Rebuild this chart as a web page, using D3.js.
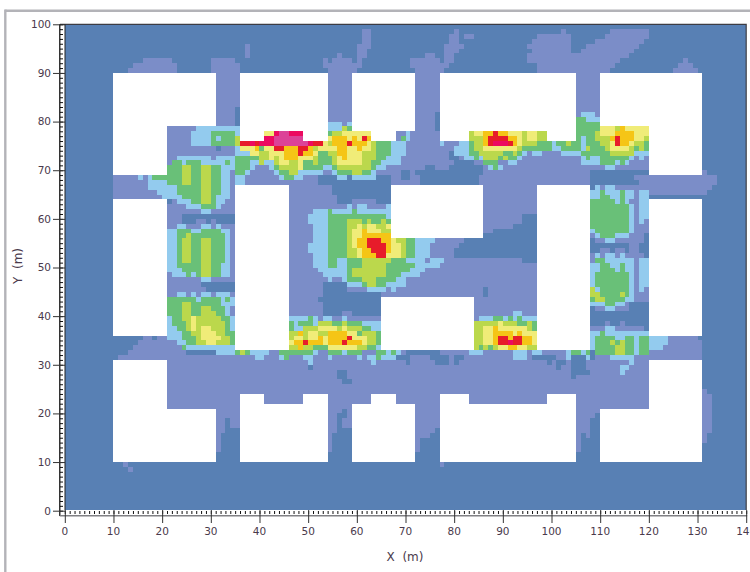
<!DOCTYPE html>
<html>
<head>
<meta charset="utf-8">
<script src="https://cdn.jsdelivr.net/npm/d3@7"></script>
<style>
html,body{margin:0;padding:0;background:#fff;overflow:hidden}
svg{display:block}
text{font-family:"DejaVu Sans",sans-serif;fill:#4a3a4c}
</style>
</head>
<body>
<svg id="c" width="750" height="572"></svg>
<script>
// Tick values (m)
const xTicks = [0,10,20,30,40,50,60,70,80,90,100,110,120,130,140];
const yTicks = [0,10,20,30,40,50,60,70,80,90,100];
const xMinorTicks = d3.range(0,141,1);
const yMinorTicks = d3.range(0,101,1);

// Level colours (A lowest ... J highest)
const levelKeys = ["A","B","C","D","E","F","G","H","I","J"];
const levelColors = ["#5880b4","#7b8dc8","#93cbee","#69c078","#bbd84c","#f0ec78","#f5c516","#e71c2a","#ec0a60","#dc4298"];

// Buildings: [x0, x1, y0, y1] in metres
const buildings = [
 [10,31,79,90],[10,21,69,90],
 [36,41,76,90],[41,49,78,90],[49,54,76,90],
 [59,72,78,90],[63,68,76,78],
 [77,105,78,90],[77,83,76,78],[99,105,76,78],
 [110,131,79,90],[120,131,69,90],
 [10,21,36,64],[120,131,36,64],
 [10,21,10,31],[10,31,10,21],[120,131,10,31],[110,131,10,21],
 [36,54,10,22],[36,41,22,24],[49,54,22,24],
 [59,72,10,22],[63,68,22,24],
 [77,105,10,22],[77,83,22,24],[99,105,22,24],
 [35,46,33,67],[67,86,56,67],[65,84,33,44],[97,108,33,67]
];

// Level field, one string per 1 m row from y=99 down to y=0.
// Each token: start x (m) + level letter; holds until the next token.
const fieldRows = [
"0A",
"0A 61B 63A 80B 81A 102B 103A 112B 120A",
"0A 61B 63A 79B 81A 82B 84A 97B 104A 111B 120A",
"0A 61B 63A 79B 81A 96B 104A 109B 119A",
"0A 37B 38A 60B 63A 78B 82A 95B 104A 107B 118A",
"0A 37B 38A 60B 62A 78B 81A 96B 104A 106B 117A",
"0A 37B 38A 56B 57A 60B 62A 74B 76A 78B 80A 95B 116A",
"0A 16B 22A 30B 35A 53B 54A 55B 59A 60B 61A 71B 77A 78B 80A 95B 114A 127B 128A",
"0A 14B 23A 30B 36A 53B 61A 71B 79A 97B 113A 126B 129A",
"0A 13B 23A 30B 36A 54B 60A 72B 78A 97B 112A 125B 130A",
"0A 31B 36A 54B 59A 72B 77A 105B 110A",
"0A 31B 36A 54B 59A 72B 77A 105B 110A",
"0A 31B 36A 54B 59A 72B 77A 105B 110A",
"0A 31B 36A 54B 59A 72B 77A 105B 110A",
"0A 31B 36A 54B 59A 72B 77A 105B 110A",
"0A 31B 36A 54B 59A 72B 77A 105B 110A",
"0A 31B 36A 54B 59A 72B 77A 105B 110A",
"0A 31B 35A 54B 59A 72B 77A 105B 110A",
"0A 31B 35A 54B 59A 72B 76A 105B 106C 109B 110A",
"0A 31B 35A 54B 59A 72B 76A 105D 107C 110A",
"0A 31B 35A 54C 57B 58C 59A 72B 76A 105D 110A",
"0A 21B 27C 36A 54C 57E 58D 59A 72B 76A 105D 110F 113E 114G 115F 120A",
"0A 21B 26C 30D 35C 36A 41F 43I 44J 46I 49A 54D 55E 57F 63A 68B 70C 71B 77A 83E 84F 86G 88H 89G 91F 94E 95F 97E 99A 105D 109E 110F 113G 117F 120A",
"0A 21B 26C 30D 31C 32D 35E 36A 41I 43J 49A 54F 55G 58F 59G 60F 61H 62G 63A 68B 69D 70C 71B 77A 83E 86G 87H 91G 93F 94E 95F 97E 99A 105D 106C 107D 109E 112G 113H 114G 117F 119E 120A",
"0A 21B 26C 30D 35E 36H 38I 39H 40I 43J 50I 51H 53F 54E 55G 58H 59G 62F 63E 64D 67C 70B 77C 78B 81C 83D 84E 86G 87H 88I 91H 92G 93F 94E 97D 100C 101D 103E 104D 106C 107D 110E 112F 113H 114G 116F 117E 119D 120A",
"0A 21B 31A 32B 35C 36F 39G 40D 41F 43H 45G 48H 50G 51E 52F 54F 56G 58F 60G 61F 63E 64D 67C 70B 80C 83D 84E 86F 93E 94D 100C 102D 106C 107E 108D 111E 112F 116E 117D 118E 119D 120A",
"0A 21B 35C 38F 40E 42F 45G 48H 49G 51F 52D 54E 56G 58F 61E 64D 67C 70B 79A 80C 83D 85E 90D 92E 93D 94C 95B 96C 98B 102C 106D 112E 117C 120A",
"0A 21B 23C 30B 31C 35D 38D 40E 42F 43E 44F 45G 48F 51E 52D 55E 56F 57G 58F 61E 64D 66C 69B 79A 81B 82C 84D 85C 86E 89D 90E 91D 93C 94B 106C 107D 108C 110D 116C 117B 118C 119B 120A",
"0A 21B 22D 24C 25D 28C 33D 34C 35D 38C 40E 41C 43E 44F 46E 48F 49D 51E 52D 55E 56F 61E 63D 65C 69B 80A 84B 86D 89B 91C 93B 106C 110D 113C 114D 115C 116B 120A",
"0A 21D 24E 26D 28E 30D 32C 35D 38C 39B 42C 43D 44E 48F 49D 53C 55D 56E 63D 64C 66B 74A 76B 79A 86B 87C 88D 89C 90B 111C 113B 120A",
"0A 21D 24E 26D 28E 30D 32C 34B 35D 37C 38B 43C 44D 46E 48C 53B 55C 56D 59E 61D 63C 64B 69A 71B 72A 86B 108A 131B 132A",
"0A 10B 15C 16B 17C 18D 24E 26D 28E 30D 32C 34B 35C 37B 44C 45D 47C 49B 52A 56C 58A 59C 64A 67B 69A 71B 73A 85B 108A 117B 134A",
"0A 10B 17C 21D 24E 26D 28E 30D 32C 34B 35C 37B 52A 67B 73A 85B 108A 118B 134A",
"0A 10B 17C 23D 28E 30D 32C 34B 46B 55A 67A 86B 108A 109C 110B 111C 113B 133A",
"0A 10B 19C 23D 28E 30D 32C 34B 46B 55A 67A 86B 108C 110D 111C 114D 115C 117B 118C 120B 132A",
"0A 10B 20C 24D 28E 30D 31C 34B 46B 56A 67A 86B 108C 110D 112C 114D 115C 117B 118C 120A",
"0A 21A 22B 23C 26D 28E 30D 31C 33B 46B 56A 59B 62B 64A 86B 108D 113C 114D 115C 116B 118C 120A",
"0A 21B 25C 28D 31C 32B 46B 58C 59B 60C 62B 66C 67A 86B 108D 116C 117B 118C 120A",
"0A 21B 28C 30B 46B 51C 54D 55C 59D 60C 67A 86B 108D 116C 117B 118C 120A",
"0A 21B 24A 35B 46B 50C 54D 66C 67A 86B 94A 108D 116C 117B 118C 120A",
"0A 21B 24A 27B 29A 30B 31A 35B 46B 50C 54D 58E 61D 62E 63D 65E 66D 67A 86B 94A 108D 116C 117B 118C 119B 120A",
"0A 21B 23C 25B 28C 30B 31C 32B 46B 51C 54D 58E 60F 61E 62F 64E 66F 67A 86B 92A 108D 116C 117B 120A",
"0A 21C 23D 26C 28D 32C 34B 46B 51C 54D 58E 59F 61G 62F 65E 67A 86B 88A 108C 109D 116C 117B 120A",
"0A 21C 23D 25E 26D 33C 34B 46B 51C 54D 58E 59F 61G 67A 108B 109C 110D 113C 116B 119A",
"0A 21C 23D 24E 26D 28E 30D 33C 34B 46B 51C 54D 58E 59F 60G 62H 65G 67F 68E 70D 72C 76B 82A 108A 109B 111C 113B 119A",
"0A 21C 23D 24E 26D 28E 30D 33C 34B 46B 50C 54D 58E 59F 60G 62H 66G 67F 69E 70D 72C 75B 81A 116B 118A",
"0A 21C 23D 24E 26D 28E 30D 33C 34B 46B 50C 54D 58E 60F 61G 63H 66G 67F 69E 70D 72C 75B 80A 110B 112A 113B 115A 116B 118A",
"0A 21C 23D 24E 26D 28E 30D 33C 34B 46B 51C 54D 58E 60F 61G 64H 66F 69E 70D 72C 75B 80A 108B 109C 110B 111C 113B 114C 115B 119A",
"0A 21C 23D 24E 26D 28E 30D 33C 34B 46B 51C 54D 56C 58D 61E 67D 70C 74B 75C 78B 94A 97B 108B 109D 111C 117B 118C 120A",
"0A 21C 23D 28E 30D 32C 34B 46B 51C 54D 56C 58D 61E 66D 72C 77B 108C 110D 112C 114D 115C 117B 118C 120A",
"0A 21C 24D 28E 30D 32C 34B 46B 52C 58D 59E 66D 71C 74B 108C 110D 113C 114D 115C 117B 118C 120A",
"0A 21B 22C 25D 26C 27D 28E 30D 32C 34B 46B 53C 58D 59E 66D 69C 73B 108C 109D 116C 117B 118C 120A",
"0A 21B 28C 30B 46B 54C 55B 57C 58D 61E 64D 68C 70B 108C 109D 116C 117B 118C 120A",
"0A 21B 28A 35B 46B 53A 58C 61D 62E 64D 66C 70B 108C 109D 116C 117B 118C 120A",
"0A 21B 29A 35B 46B 53A 58B 62C 66B 67C 68B 86A 87B 108E 109C 110D 116C 117B 118C 119B 120A",
"0A 21B 23C 25B 26C 27B 28C 30B 31C 34B 46B 53A 65B 86A 87B 108E 110D 114E 115D 116C 117B 120A",
"0A 21D 25D 27C 28D 32C 33D 34C 35B 46B 52A 65B 108D 109E 111D 115C 117B 120A",
"0A 21D 24E 26D 32C 35B 46B 53A 65B 108C 111D 113C 115B 116A",
"0A 21D 24E 26D 28E 30D 33C 34B 46B 53A 65B 108A 109B 111C 113B 116A",
"0A 21D 24E 26D 28E 31D 33C 34B 46B 53A 57B 59A 65B 92C 94B 108A",
"0A 21C 22D 24E 26F 27E 32D 34C 46C 50D 51C 52B 53C 55B 57C 58B 85C 88D 90C 91D 92C 93D 94C 97A 108A",
"0A 21C 22D 25E 26F 27E 33D 34C 46D 47C 48D 51C 52E 55D 57E 58D 61C 65B 84E 89F 90E 93D 95E 96D 97A 108A 111B 112A 114B 115A",
"0A 21C 23D 25E 26F 27E 28F 30E 33D 34C 46D 47C 49E 52F 56E 57F 58E 61D 63C 65B 84E 86F 88G 89F 95E 96D 97B 108B 111C 113B 119A",
"0A 21C 24D 26E 28F 31E 33D 35C 46E 48G 49E 50F 52E 54G 58F 60D 61E 64D 65B 84E 86F 88G 92F 93G 94F 97C 108C 110D 111C 120A",
"0A 16B 18A 19B 21C 24D 27E 28F 32E 34D 35C 46E 47F 49E 50F 52G 53F 54G 58H 59F 62E 64D 65B 84E 86F 88G 89H 91G 92H 94G 96F 97B 108C 109D 113C 115D 117C 118D 120C 124B 130A",
"0A 15B 23C 25D 27E 29F 31E 34D 35B 46F 47G 49H 50G 53F 54G 57H 58G 61F 62E 64D 65B 84E 86F 88G 89H 91I 92H 94G 96F 97B 108C 109D 112E 113D 114E 115D 117C 118D 120C 124B 131A",
"0A 14B 24D 25C 35B 46E 48G 49E 51D 54F 60E 62D 64C 65B 84E 85D 86E 87D 88E 89F 91G 93F 95E 97B 108C 109D 113E 115D 117C 118D 120C 123B 131A",
"0A 13B 25A 31C 35D 36E 37D 38C 42B 44D 51C 52B 54D 57C 58D 61B 64D 66C 67D 68C 69B 70A 77B 83C 86B 92C 95B 96C 98B 103C 104D 106C 107D 108A 109D 113E 115D 117C 118D 120B 131A",
"0A 11B 39C 41B 44C 45D 46B 49C 51B 54C 55B 60C 61B 62C 64D 65C 68A 71B 75A 79B 80A 82B 92C 95B 96A 101B 103C 104A 107C 108A 109B 112C 117B 131A",
"0A 21B 50C 51B 63C 64B 70A 71B 76A 79B 80A 81B 99A 100B 101A 103B 104A 107B 116C 117B 131A",
"0A 21B 50A 51B 101A 102B 104A 107B 114C 116B 131A",
"0A 21B 56A 58B 104A 108B 114C 115B 131A",
"0A 21B 56A 58B 104A 105B 131A",
"0A 21B 57A 59B 131A",
"0A 21B 131A",
"0A 21B 131B 132A",
"0A 21B 131B 133A",
"0A 21B 131B 133A",
"0A 21B 131B 133A",
"0A 21B 57A 58B 131B 133A",
"0A 21B 56A 58B 109A 110B 131B 133A",
"0A 21B 33A 34B 56A 57B 108A 110B 131B 133A",
"0A 21B 33A 34B 56A 57B 108A 110B 131B 133A",
"0A 21B 33A 36B 56A 59B 76A 77B 108A 110B 131B 133A",
"0A 21B 32A 36B 55A 59B 75A 77B 106A 107B 108A 110B 131B 132A",
"0A 21B 32A 36B 55A 59B 73A 77B 106A 110B 131B 132A",
"0A 21B 32A 36B 55A 59B 73A 77B 106A 110B 131A",
"0A 21B 32A 36B 55A 59B 73A 77B 106A 110B 131A",
"0A",
"0A",
"0A 12B 13A 77B 78A",
"0A 13B 14A",
"0A","0A","0A","0A","0A","0A","0A","0A"
];

const x = d3.scaleLinear().domain([0,140]).range([64.8,746.2]);
const y = d3.scaleLinear().domain([0,100]).range([510.7,24.3]);
const color = d3.scaleOrdinal().domain(levelKeys).range(levelColors);

// Expand the strings into runs
const runs = [];
fieldRows.forEach((row,i)=>{
  const yv = fieldRows.length-1-i;
  const toks = row.split(" ").map(t=>({x:+t.slice(0,-1),l:t.slice(-1)}));
  toks.forEach((t,j)=>{
    const end = j<toks.length-1 ? toks[j+1].x : 140;
    runs.push({y:yv,x0:t.x,x1:end,l:t.l});
  });
});

const svg = d3.select("#c");

// Panel frame
svg.append("line").attr("x1",5.3).attr("x2",750).attr("y1",10.7).attr("y2",10.7).attr("stroke","#b3b3b8").attr("stroke-width",2.4);
svg.append("line").attr("x1",5.3).attr("x2",5.3).attr("y1",9.5).attr("y2",572).attr("stroke","#b3b3b8").attr("stroke-width",2.4);

// Field cells
svg.append("g").attr("shape-rendering","crispEdges").selectAll("rect").data(runs).join("rect")
  .attr("x",d=>x(d.x0)).attr("width",d=>x(d.x1)-x(d.x0))
  .attr("y",d=>y(d.y+1)).attr("height",d=>y(d.y)-y(d.y+1))
  .attr("fill",d=>color(d.l));

// Buildings
svg.append("g").attr("shape-rendering","crispEdges").selectAll("rect").data(buildings).join("rect")
  .attr("x",d=>x(d[0])).attr("width",d=>x(d[1])-x(d[0]))
  .attr("y",d=>y(d[3])).attr("height",d=>y(d[2])-y(d[3]))
  .attr("fill","#fff");

// Strip below the field, so that minor ticks sit on white
svg.append("rect").attr("x",60).attr("y",510).attr("width",690).attr("height",6).attr("fill","#fff");

// Plot border (top, right, left)
svg.append("path").attr("d",`M60,${y(100)}H${x(140)}V510`).attr("fill","none").attr("stroke","#3c3c44").attr("stroke-width",1.2);
svg.append("line").attr("x1",65).attr("x2",65).attr("y1",y(100)).attr("y2",510).attr("stroke","#222").attr("stroke-width",1);

// Minor ticks
const gYm = svg.append("g").attr("transform","translate(60,0)").call(d3.axisRight(y).tickValues(yMinorTicks).tickSize(3).tickFormat(""));
gYm.select(".domain").remove();
const gXm = svg.append("g").attr("transform","translate(0,511)").call(d3.axisBottom(x).tickValues(xMinorTicks).tickSize(3).tickFormat(""));
gXm.select(".domain").remove();
gYm.selectAll("line").attr("stroke","#111");
gXm.selectAll("line").attr("stroke","#111");

// Axis lines
svg.append("line").attr("x1",59.8).attr("x2",59.8).attr("y1",y(100)).attr("y2",516).attr("stroke","#000").attr("stroke-width",1.2);
svg.append("line").attr("x1",59.8).attr("x2",x(140)+1).attr("y1",515.8).attr("y2",515.8).attr("stroke","#808084").attr("stroke-width",1.6);

// Major axes
const gY = svg.append("g").attr("transform","translate(65,0)")
  .call(d3.axisLeft(y).tickValues(yTicks).tickSize(12).tickPadding(2));
gY.select(".domain").remove();
gY.selectAll("line").attr("stroke","#333");
gY.selectAll("text").style("font-size","10.5px").attr("dy","0.32em");
const gX = svg.append("g").attr("transform","translate(0,510)")
  .call(d3.axisBottom(x).tickValues(xTicks).tickSize(13).tickPadding(5));
gX.select(".domain").remove();
gX.selectAll("line").attr("stroke","#333");
gX.selectAll("text").style("font-size","10.5px").attr("dx","-0.5");

// Axis titles
svg.append("text").attr("x",405).attr("y",561).attr("text-anchor","middle")
  .style("font-size","12px").style("white-space","pre").text("X  (m)");
svg.append("text").attr("transform","translate(22,266) rotate(-90)").attr("text-anchor","middle")
  .style("font-size","12px").style("white-space","pre").text("Y  (m)");
</script>
</body>
</html>
